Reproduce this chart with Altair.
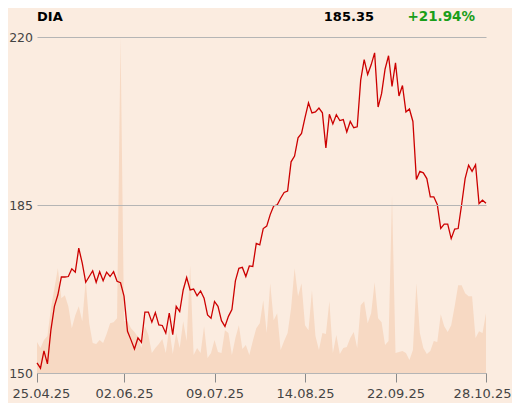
import altair as alt
import pandas as pd

# DIA closing prices (trading days, 25.04.25 .. 28.10.25)
price = [152.1, 151.0, 154.6, 151.9, 159.0, 163.9, 166.3, 170.0, 170.0, 170.1,
         171.7, 171.0, 176.0, 172.9, 168.9, 170.1, 171.3, 168.9, 171.1, 169.2,
         171.0, 170.1, 171.1, 169.1, 168.8, 166.0, 158.7, 156.9, 155.0, 157.3,
         156.4, 162.7, 162.7, 160.6, 162.6, 160.0, 159.9, 158.3, 162.5, 158.0,
         163.9, 162.8, 167.3, 169.9, 167.3, 167.5, 166.1, 167.1, 165.6, 162.1,
         161.4, 164.9, 163.9, 160.9, 159.7, 161.8, 163.2, 169.2, 171.8, 172.0,
         170.1, 172.3, 172.2, 177.0, 176.7, 180.1, 180.6, 183.0, 184.8, 185.0,
         186.4, 187.6, 187.9, 194.0, 195.2, 199.0, 199.9, 203.2, 206.3, 204.2,
         204.4, 205.2, 204.2, 196.9, 203.9, 201.9, 203.8, 202.6, 202.8, 200.2,
         202.4, 201.1, 201.3, 211.0, 215.3, 212.2, 214.2, 216.7, 205.4, 208.2,
         213.3, 216.1, 209.7, 214.6, 207.7, 209.9, 204.4, 205.0, 202.4, 190.3,
         192.0, 191.7, 190.5, 186.7, 186.7, 185.1, 180.1, 181.0, 181.0, 178.0,
         180.0, 180.1, 185.1, 190.5, 193.3, 192.0, 193.4, 185.3, 186.0, 185.35]

# Trading volume (millions, estimated)
volume = [1.55, 1.25, 1.65, 1.85, 3.25, 4.25, 5.25, 3.75, 3.9, 3.35,
          2.25, 2.9, 3.35, 2.6, 4.65, 2.5, 1.5, 1.45, 1.65, 1.5,
          1.95, 2.5, 2.55, 2.75, 16.85, 2.6, 2.6, 2.25, 2.05, 1.8,
          1.25, 2.35, 1.9, 1.0, 1.25, 1.45, 1.7, 1.0, 2.25, 0.95,
          2.0, 1.25, 2.6, 1.6, 5.4, 0.9, 1.25, 1.0, 2.35, 0.75,
          1.0, 1.65, 1.05, 1.0, 2.15, 2.0, 0.9, 1.75, 2.4, 1.2,
          1.4, 0.9, 1.6, 2.25, 2.5, 3.65, 2.0, 4.5, 2.65, 3.0,
          1.15, 1.6, 2.0, 3.25, 5.25, 3.85, 4.5, 2.4, 2.15, 4.15,
          1.85, 1.15, 2.0, 1.95, 3.6, 1.0, 1.9, 0.95, 1.25, 1.3,
          1.75, 2.05, 1.25, 3.4, 3.6, 2.5, 3.0, 4.55, 2.75, 2.55,
          1.4, 1.6, 8.9, 1.0, 1.05, 1.1, 1.0, 0.65, 1.15, 4.5,
          2.0, 1.25, 0.95, 1.1, 1.6, 1.55, 2.95, 2.35, 2.05, 2.4,
          3.35, 4.4, 4.4, 4.0, 3.85, 3.85, 1.75, 2.1, 2.0, 3.0]

tick_idx = [0, 25, 51, 77, 103, 129]
tick_lab = ["25.04.25", "02.06.25", "09.07.25", "14.08.25", "22.09.25", "28.10.25"]
y_ticks = [150, 185, 220]

ticker = "DIA"
last_price = "185.35"
change = "+21.94%"

n = len(price)
df = pd.DataFrame({"idx": list(range(n)), "price": price, "vol": volume})

label_expr = " : ".join(f"datum.value == {i} ? '{l}'" for i, l in zip(tick_idx, tick_lab)) + " : ''"

FONT = "DejaVu Sans"

x_enc = alt.X(
    "idx:Q",
    scale=alt.Scale(domain=[0, n - 1], nice=False, zero=False),
    axis=alt.Axis(
        values=tick_idx, labelExpr=label_expr, title=None, grid=False,
        domainColor="#8a8a8a", tickColor="#8a8a8a", tickSize=9,
        labelFontSize=13, labelColor="#444444", labelFont=FONT,
        labelPadding=5, labelFlush=True, labelFlushOffset=25, labelOverlap=False,
    ),
)

vol_layer = alt.Chart(df).mark_area(color="#f7d9c3", opacity=1).encode(
    x=x_enc,
    y=alt.Y("vol:Q", scale=alt.Scale(domain=[0, max(volume)], nice=False), axis=None),
)

price_layer = alt.Chart(df).mark_line(color="#cc0000", strokeWidth=1.3).encode(
    x=x_enc,
    y=alt.Y(
        "price:Q",
        scale=alt.Scale(domain=[150, 220], nice=False, zero=False),
        axis=alt.Axis(
            values=y_ticks, title=None, grid=True, gridColor="#b5b5b5",
            domain=False, ticks=False, labelFontSize=12.5, labelColor="#444444",
            labelFont=FONT, labelPadding=4.5, zindex=1,
        ),
    ),
)

t1 = alt.Chart(pd.DataFrame({"t": [ticker]})).mark_text(
    align="left", baseline="alphabetic", fontSize=13, fontWeight="bold", font=FONT, color="#000000"
).encode(x=alt.value(0), y=alt.value(-16), text="t:N")

t2 = alt.Chart(pd.DataFrame({"t": [last_price]})).mark_text(
    align="right", baseline="alphabetic", fontSize=13, fontWeight="bold", font=FONT, color="#000000"
).encode(x=alt.value(337), y=alt.value(-16), text="t:N")

t3 = alt.Chart(pd.DataFrame({"t": [change]})).mark_text(
    align="right", baseline="alphabetic", fontSize=13.5, fontWeight="bold", font=FONT, color="#1a9e1a"
).encode(x=alt.value(438), y=alt.value(-16), text="t:N")

chart = (
    alt.layer(vol_layer, price_layer, t1, t2, t3)
    .resolve_scale(y="independent")
    .properties(
        width=449, height=336,
        autosize="none",
        padding={"left": 29, "top": 29, "right": 26, "bottom": 30},
    )
    .configure(background="#fbece0")
    .configure_view(strokeWidth=0)
)

chart.save("out.html", embed_options={"renderer": "svg", "actions": False})
